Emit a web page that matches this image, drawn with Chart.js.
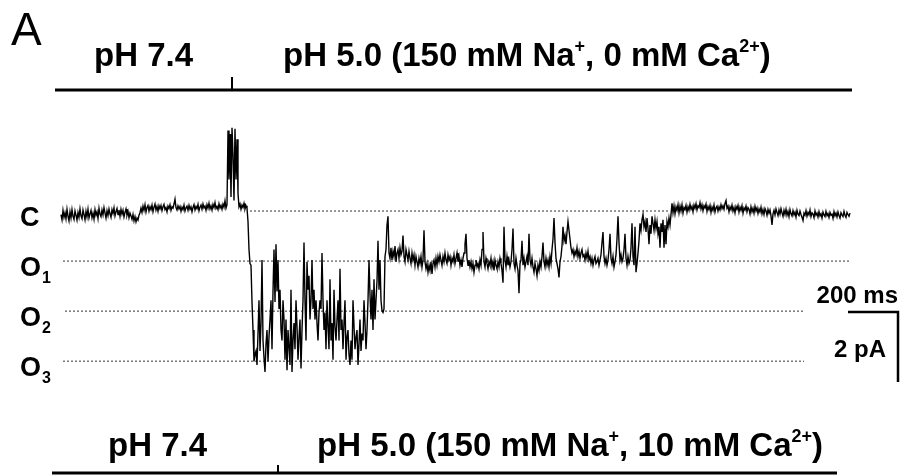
<!DOCTYPE html>
<html><head><meta charset="utf-8">
<script src="https://cdn.jsdelivr.net/npm/chart.js@4.4.1/dist/chart.umd.min.js"></script>
<style>html,body{margin:0;padding:0;background:#fff;}#wrap{width:912px;height:476px;position:relative;}</style>
</head><body><div id="wrap"><canvas id="c" width="912" height="476"></canvas></div>
<script>
// ---- data (time in ms, current in pA) ----
const SAMPLE_MS = 4;
const traceCurrentPA = [
// closed, pH 7.4
-0.10,-0.25,0.02,-0.18,-0.05,-0.22,0.05,-0.15,-0.28,-0.02,
-0.20,0.04,-0.15,-0.24,0.00,-0.12,-0.26,-0.04,-0.18,0.06,
-0.14,-0.22,0.03,-0.10,-0.25,-0.01,-0.17,0.05,-0.20,-0.08,
0.02,-0.19,-0.06,-0.23,0.04,-0.12,-0.02,-0.21,0.08,-0.09,
-0.16,0.03,-0.11,0.10,-0.05,-0.20,0.01,-0.13,0.06,-0.08,
-0.18,0.04,-0.07,0.09,-0.14,-0.02,0.07,-0.10,0.03,-0.15,
0.05,-0.09,0.02,-0.17,-0.04,0.06,-0.12,-0.01,-0.19,-0.06,
-0.14,-0.24,-0.10,-0.28,-0.16,-0.31,-0.20,-0.26,-0.12,-0.05,
0.08,-0.04,0.14,0.02,0.18,-0.03,0.10,0.16,0.00,0.12,
0.04,0.17,-0.02,0.11,0.20,0.03,0.13,-0.01,0.15,0.06,
0.16,0.01,0.12,0.19,0.04,0.10,-0.02,0.14,0.07,0.18,
0.02,0.12,0.08,0.20,0.34,0.10,0.03,0.15,0.06,0.13,
-0.01,0.11,0.04,0.17,0.00,0.09,0.14,0.02,0.16,0.05,
0.12,-0.02,0.10,0.18,0.03,0.13,0.07,0.19,0.01,0.11,
0.17,0.05,0.20,0.09,0.14,0.02,0.18,0.08,0.22,0.06,
0.15,0.03,0.19,0.10,0.24,0.07,0.13,0.04,0.21,0.09,
0.16,0.05,0.20,0.11,0.29,0.08,0.18,
// switching artefact
2.30,0.90,2.20,0.40,2.38,1.60,0.30,2.35,0.90,2.05,
0.50,0.12,0.20,0.05,0.17,0.10,0.22,0.06,0.15,0.08,
-0.30,
// burst of O1-O3 openings, pH 5.0
-1.10,-1.50,-1.55,-2.60,-3.40,-4.30,-4.10,-4.00,-4.40,-3.50,
-2.55,-4.00,-3.20,-1.40,-3.70,-4.20,-4.60,-3.80,-3.40,-4.30,
-3.60,-3.10,-2.55,-3.95,-2.30,-1.10,-2.60,-0.95,-2.30,-1.40,
-2.80,-2.25,-3.40,-3.70,-2.55,-3.10,-4.25,-3.10,-4.55,-3.40,
-3.90,-4.40,-2.25,-4.60,-3.70,-3.20,-3.95,-2.55,-3.30,-4.25,
-3.60,-3.10,-4.50,-3.40,-2.55,-0.90,-2.55,-3.70,-1.45,-2.25,
-1.85,-3.10,-2.55,-1.40,-2.80,-2.25,-3.10,-2.55,-3.20,-3.70,
-2.90,-2.55,-2.80,-1.20,-2.55,-3.40,-2.90,-3.95,-2.55,-3.30,
-3.95,-1.95,-3.70,-3.20,-4.25,-2.25,-3.30,-3.70,-3.10,-2.55,
-3.70,-1.65,-3.40,-3.10,-3.95,-3.20,-2.55,-4.25,-3.60,-3.40,
-4.10,-4.40,-3.70,-4.25,-2.55,-3.30,-3.95,-3.60,-3.40,-4.40,
-3.80,-3.10,-4.00,-3.50,-3.70,-2.55,-3.20,-3.95,-3.40,-2.55,
-1.40,-2.40,-3.10,-2.25,-3.40,-1.95,-3.10,-2.55,-2.00,-0.85,
-2.25,-1.40,-2.55,-2.85,-2.90,-2.80,-1.30,-1.10,-0.40,-0.15,
// mostly O1
-1.20,-1.35,-1.05,-1.40,-1.15,-1.30,-1.00,-1.45,-1.20,-1.10,
-1.35,-1.05,-1.25,-1.15,-0.70,-1.30,-1.45,-1.10,-1.25,-1.40,
-1.15,-1.35,-1.50,-1.20,-1.40,-1.25,-1.55,-1.30,-1.45,-1.60,
-1.35,-1.50,-1.30,-1.60,-1.40,-0.55,-1.45,-1.65,-1.50,-1.75,
-1.55,-1.70,-1.45,-1.80,-1.50,-1.40,-1.60,-1.35,-1.55,-1.30,
-1.45,-1.25,-1.40,-1.55,-1.30,-1.45,-1.20,-1.40,-1.50,-1.25,
-1.40,-1.30,-1.55,-1.35,-1.45,-1.25,-1.50,-1.35,-1.20,-1.45,
-1.30,-1.55,-1.40,-1.60,-1.35,-1.20,-0.95,-0.65,-1.35,-1.55,
-1.40,-1.60,-1.45,-1.65,-1.50,-1.75,-1.55,-1.40,-1.60,-1.50,
-1.65,-1.40,-1.55,-1.10,-0.60,-1.45,-1.60,-1.35,-1.50,-1.65,
-1.45,-1.55,-1.35,-1.60,-1.45,-1.70,-1.40,-1.55,-1.65,-1.45,
-1.60,-1.35,-1.50,-1.70,-2.05,-0.45,-1.40,-1.60,-1.30,-1.55,
-1.40,-1.60,-1.45,-1.10,-0.50,-1.50,-1.65,-1.35,-1.55,-1.70,
-2.35,-1.50,-1.40,-0.85,-1.55,-1.35,-1.60,-1.45,-1.30,-1.55,
-0.65,-1.40,-1.55,-1.35,-1.60,-1.75,-1.50,-1.65,-1.85,-1.55,
-1.70,-1.45,-1.60,-1.30,-0.90,-1.45,-1.60,-1.35,-1.55,-1.40,
-1.60,-1.30,-1.50,-1.10,-0.80,-0.20,-0.90,-1.35,-1.50,-1.65,
-1.90,-1.45,-1.30,-1.00,-0.45,-0.85,-0.70,-0.95,-0.60,-0.30,
-0.55,-0.80,-1.05,-1.20,-1.10,-1.30,-1.15,-1.25,-1.05,-1.30,
-1.15,-1.35,-1.20,-1.10,-1.30,-1.25,-1.40,-1.20,-1.35,-1.15,
-1.40,-1.30,-1.50,-1.35,-1.55,-1.40,-1.30,-1.50,-1.45,-1.35,
-1.55,-1.40,-1.25,-0.90,-0.60,-1.30,-1.50,-1.35,-1.55,-1.40,
-1.10,-0.65,-1.35,-1.50,-1.30,-1.60,-1.45,-1.25,-0.80,-0.15,
-0.90,-1.40,-1.25,-1.45,-1.35,-1.10,-0.65,-1.35,-1.55,-1.30,
-1.50,-1.40,-1.05,-0.35,-1.30,-1.55,-0.45,-1.75,-1.50,-1.20,
// flicker between C and O1
-0.85,-0.35,-0.55,-0.25,-0.10,-0.45,-0.30,-0.60,-0.20,-0.50,
-0.95,-0.40,-0.65,-0.15,-0.35,-0.55,-0.25,-0.50,-0.30,-0.65,
-0.45,-1.05,-0.35,-0.60,-0.25,-1.05,-0.40,-0.95,-0.30,-0.45,
-0.20,-0.40,-0.10,0.22,-0.05,0.15,-0.08,0.12,0.02,0.18,
// closed again
-0.05,0.14,0.00,0.18,-0.06,0.10,0.04,0.16,-0.03,0.12,
0.02,0.19,0.05,0.13,-0.02,0.17,0.08,0.21,0.03,0.15,
0.10,0.24,0.06,0.18,0.01,0.15,0.09,0.20,-0.01,0.13,
0.04,0.16,-0.04,0.11,0.02,0.17,-0.03,0.09,0.14,0.00,
0.12,0.03,0.18,0.07,0.15,0.05,0.22,0.30,0.08,0.14,
-0.02,0.12,0.04,0.17,0.00,0.10,-0.05,0.13,0.05,0.16,
-0.03,0.11,0.02,0.15,-0.06,0.09,0.03,0.14,-0.02,0.10,
0.05,-0.08,0.12,-0.02,0.08,-0.06,0.13,0.00,0.09,-0.07,
0.06,-0.03,0.11,-0.08,0.04,-0.10,0.07,0.00,-0.12,0.05,
-0.06,0.03,-0.14,-0.40,-0.08,0.02,-0.11,0.06,-0.04,-0.13,
0.03,-0.09,0.07,-0.05,-0.15,0.02,-0.10,0.05,-0.12,-0.01,
-0.16,0.04,-0.08,-0.14,0.01,-0.11,-0.03,-0.17,0.02,-0.09,
-0.13,0.00,-0.10,-0.18,-0.27,-0.06,-0.12,0.01,-0.15,-0.04,
-0.11,0.03,-0.16,-0.05,-0.09,-0.19,0.00,-0.12,-0.06,-0.17,
-0.02,-0.14,-0.08,-0.20,-0.03,-0.11,-0.16,-0.01,-0.13,-0.07,
-0.18,-0.04,-0.12,-0.09,-0.21,-0.02,-0.14,-0.06,-0.17,-0.03,
-0.13,-0.20,-0.05,-0.11,-0.16,-0.01,-0.12,-0.18,-0.04,-0.10,
-0.15,-0.06
];
const levelNames = ['C', 'O1', 'O2', 'O3'];
const levelCurrentsPA = [0, -1.43, -2.86, -4.29];
const levelStartMs = [756, 8, 16, 8];
const levelEndMs = [2436, 3152, 2972, 2972];

// solution bars (top: 0 mM Ca, bottom: 10 mM Ca)
const barLevelsPA = [3.457, -7.486];
const barStartMs = [-24, -36];
const barEndMs = [3164, 3104];
const barSwitchMs = [684, 868];
const barTickPA = [0.37, 0.23];
const barLeftLabels = ['pH 7.4', 'pH 7.4'];
const barRightLabels = [
  [['pH 5.0 (150 mM Na', 0], ['+', 1], [', 0 mM Ca', 0], ['2+', 1], [')', 0]],
  [['pH 5.0 (150 mM Na', 0], ['+', 1], [', 10 mM Ca', 0], ['2+', 1], [')', 0]]
];

// scale bar
const scaleBarMs = 200;
const scaleBarPA = 2;
const scaleBarOriginMs = 3148;
const scaleBarOriginPA = -2.886;
const scaleBarLabels = ['200 ms', '2 pA'];

const panelLetter = 'A';

// ---- build datasets ----
const FONT = '"Liberation Sans", Arial, Helvetica, sans-serif';
const traceData = traceCurrentPA.map((v, i) => ({x: i * SAMPLE_MS, y: v}));
const datasets = [];
datasets.push({data: traceData, borderColor: '#000', borderWidth: 1.4, order: 0});
levelCurrentsPA.forEach((lv, k) => {
  datasets.push({data: [{x: levelStartMs[k], y: lv}, {x: levelEndMs[k], y: lv}],
    borderColor: '#333', borderWidth: 1, borderDash: [2, 2], order: 2});
});
barLevelsPA.forEach((lv, k) => {
  datasets.push({data: [{x: barStartMs[k], y: lv}, {x: barEndMs[k], y: lv}],
    borderColor: '#000', borderWidth: 3, order: 1});
  datasets.push({data: [{x: barSwitchMs[k], y: lv}, {x: barSwitchMs[k], y: lv + barTickPA[k]}],
    borderColor: '#000', borderWidth: 2, order: 1});
});
datasets.push({data: [
  {x: scaleBarOriginMs, y: scaleBarOriginPA},
  {x: scaleBarOriginMs + scaleBarMs, y: scaleBarOriginPA},
  {x: scaleBarOriginMs + scaleBarMs, y: scaleBarOriginPA - scaleBarPA}],
  borderColor: '#000', borderWidth: 2.5, order: 1, borderJoinStyle: 'miter'});

function drawSegs(ctx, segs, x, y, size, supSize, raise) {
  let cx = x;
  segs.forEach(([t, sup]) => {
    ctx.font = 'bold ' + (sup ? supSize : size) + 'px ' + FONT;
    ctx.fillText(t, cx, sup ? y - raise : y);
    cx += ctx.measureText(t).width;
  });
}

const textPlugin = {
  id: 'texts',
  afterDraw(chart) {
    const ctx = chart.ctx, xs = chart.scales.x, ys = chart.scales.y;
    ctx.save();
    ctx.fillStyle = '#000';
    ctx.textBaseline = 'alphabetic';
    ctx.textAlign = 'left';
    ctx.font = '46px ' + FONT;
    ctx.fillText(panelLetter, 11, 45);
    // solution labels
    const leftX = [94, 108], rightX = [283, 317];
    barLevelsPA.forEach((lv, k) => {
      const by = ys.getPixelForValue(lv);
      const base = k === 0 ? by - 24 : by - 17;
      ctx.font = 'bold 33px ' + FONT;
      ctx.fillText(barLeftLabels[k], leftX[k], base);
      drawSegs(ctx, barRightLabels[k], rightX[k], base, 33, 18, 14);
    });
    // level labels
    levelNames.forEach((nm, k) => {
      const py = ys.getPixelForValue(levelCurrentsPA[k]);
      ctx.font = 'bold 27px ' + FONT;
      const main = nm.charAt(0);
      ctx.fillText(main, 20, py + 15);
      if (nm.length > 1) {
        const w = ctx.measureText(main).width;
        ctx.font = 'bold 16px ' + FONT;
        ctx.fillText(nm.slice(1), 20 + w + 1, py + 22);
      }
    });
    // scale bar labels
    const sx = xs.getPixelForValue(scaleBarOriginMs + scaleBarMs);
    const sy = ys.getPixelForValue(scaleBarOriginPA);
    ctx.textAlign = 'right';
    ctx.font = 'bold 24px ' + FONT;
    ctx.fillText(scaleBarLabels[0], sx, sy - 9);
    ctx.fillText(scaleBarLabels[1], sx - 12, sy + 45);
    ctx.restore();
  }
};

new Chart(document.getElementById('c'), {
  type: 'line',
  data: {datasets},
  options: {
    responsive: false, animation: false, devicePixelRatio: 1,
    layout: {padding: 0},
    elements: {point: {radius: 0}, line: {tension: 0, borderCapStyle: 'butt', fill: false}},
    plugins: {legend: {display: false}, tooltip: {enabled: false}},
    scales: {
      x: {type: 'linear', min: -244, max: 3404, display: false},
      y: {type: 'linear', min: -7.571, max: 6.029, display: false}
    }
  },
  plugins: [textPlugin]
});
</script></body></html>
